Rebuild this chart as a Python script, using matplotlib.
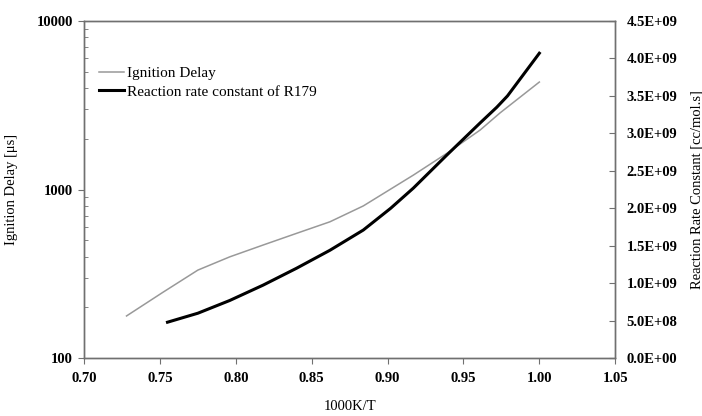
import matplotlib
matplotlib.use('Agg')
import matplotlib.pyplot as plt
from matplotlib.ticker import FixedLocator, NullFormatter, FuncFormatter

plt.rcParams['font.family'] = ['Liberation Serif', 'DejaVu Serif']

# ignition delay (left axis, log)
x_ign = [0.728, 0.752, 0.775, 0.796, 0.818, 0.840, 0.862, 0.884,
         0.917, 0.939, 0.961, 0.974, 1.000]
ign_delay = [178, 246, 333, 399, 469, 550, 644, 800,
             1219, 1640, 2256, 2845, 4345]

# reaction rate constant of R179 (right axis)
x_k = [0.755, 0.775, 0.796, 0.818, 0.840, 0.862, 0.884, 0.902,
       0.917, 0.939, 0.961, 0.972, 0.979, 1.000]
k_r179 = [0.48e9, 0.60e9, 0.77e9, 0.975e9, 1.20e9, 1.44e9, 1.71e9, 2.00e9,
          2.27e9, 2.71e9, 3.14e9, 3.35e9, 3.50e9, 4.07e9]

x_ticks = [0.70, 0.75, 0.80, 0.85, 0.90, 0.95, 1.00, 1.05]
right_ticks = [i * 0.5e9 for i in range(10)]

fig = plt.figure(figsize=(7.02, 4.16), dpi=100)
ax = fig.add_axes([0.1197, 0.139, 0.7567, 0.8105])
ax2 = ax.twinx()

l1, = ax.plot(x_ign, ign_delay, color='#999999', lw=1.1, label='Ignition Delay')
l2, = ax2.plot(x_k, k_r179, color='black', lw=2.2, label='Reaction rate constant of R179')

ax.set_yscale('log')
ax.set_ylim(100, 10000)
ax.set_xlim(0.70, 1.05)
ax.set_xticks(x_ticks)
ax.xaxis.set_major_formatter(FuncFormatter(lambda v, p: '%.2f' % v))
ax.yaxis.set_major_locator(FixedLocator([100, 1000, 10000]))
ax.yaxis.set_major_formatter(FuncFormatter(lambda v, p: '%d' % v))
ax.yaxis.set_minor_locator(FixedLocator([k * 10**e for e in (2, 3) for k in range(2, 10)]))
ax.yaxis.set_minor_formatter(NullFormatter())

ax2.set_ylim(0, 4.5e9)
ax2.set_yticks(right_ticks)
ax2.yaxis.set_major_formatter(FuncFormatter(lambda v, p: '%.1E' % v))

spine_col = '#707070'
for a in (ax, ax2):
    for s in a.spines.values():
        s.set_color(spine_col)
        s.set_linewidth(1.0)

ax.tick_params(axis='x', direction='out', length=4, color=spine_col, labelsize=10.5, pad=6)
ax.tick_params(axis='y', which='major', direction='out', length=4, color=spine_col, labelsize=10.5, pad=4)
ax.tick_params(axis='y', which='minor', direction='in', length=3, color=spine_col)
ax2.tick_params(axis='y', direction='in', length=4, color=spine_col, labelsize=10.5, pad=8)
for lab in ax.get_xticklabels() + ax.get_yticklabels() + ax2.get_yticklabels():
    lab.set_fontweight('bold')

ax.set_xlabel('1000K/T', fontsize=10.5)
ax.set_ylabel('Ignition Delay [\u03bcs]', fontsize=10.5)
ax2.set_ylabel('Reaction Rate Constant [cc/mol.s]', fontsize=10.5)
ax.xaxis.set_label_coords(0.5, -0.125)
ax.yaxis.set_label_coords(-0.124, 0.5)
ax2.yaxis.set_label_coords(1.141, 0.5)

ax.legend(handles=[l1, l2], loc='upper left', bbox_to_anchor=(0.0, 0.91),
          frameon=False, fontsize=11, handlelength=1.6, handletextpad=0.2,
          labelspacing=0.3, borderaxespad=0.6)

fig.savefig('out.png', dpi=100)
